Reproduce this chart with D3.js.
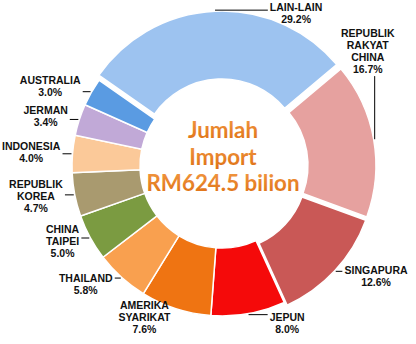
<!DOCTYPE html>
<html>
<head>
<meta charset="utf-8">
<script src="https://cdn.jsdelivr.net/npm/d3@7"></script>
<style>
  body { margin: 0; background: #fff; }
</style>
</head>
<body>
<svg width="416" height="344"></svg>
<script>
var countries = ["REPUBLIK RAKYAT CHINA", "SINGAPURA", "JEPUN", "AMERIKA SYARIKAT", "THAILAND",
                 "CHINA TAIPEI", "REPUBLIK KOREA", "INDONESIA", "JERMAN", "AUSTRALIA", "LAIN-LAIN"];
var labelLines = [["REPUBLIK", "RAKYAT", "CHINA"], ["SINGAPURA"], ["JEPUN"], ["AMERIKA", "SYARIKAT"], ["THAILAND"],
                  ["CHINA", "TAIPEI"], ["REPUBLIK", "KOREA"], ["INDONESIA"], ["JERMAN"], ["AUSTRALIA"], ["LAIN-LAIN"]];
var shares = [16.7, 12.6, 8.0, 7.6, 5.8, 5.0, 4.7, 4.0, 3.4, 3.0, 29.2];
var centerText = ["Jumlah", "Import", "RM624.5 bilion"];

var svg = d3.select("svg"),
    width = +svg.attr("width"),
    height = +svg.attr("height");

var cx = 222, cy = 166,
    outerR = 150, innerR = 82;

var color = d3.scaleOrdinal()
    .domain(countries)
    .range(["#e6a19f", "#c95856", "#f50a0a", "#ef7412", "#f9a04f",
            "#7b9b41", "#a99a6f", "#fbc999", "#c1a9d7", "#5a9be2", "#9dc3f0"]);

// slices pulled out of the ring
var explode = {"LAIN-LAIN": 5, "REPUBLIK RAKYAT CHINA": 4, "SINGAPURA": 4};

var start = 50 * Math.PI / 180;
var pie = d3.pie()
    .sort(null)
    .value(function(d) { return d.value; })
    .startAngle(start)
    .endAngle(start + 2 * Math.PI);

var data = countries.map(function(c, i) {
  return {name: c, value: shares[i], lines: labelLines[i].concat([shares[i].toFixed(1) + "%"])};
});

var arcs = pie(data);
var arc = d3.arc().innerRadius(innerR).outerRadius(outerR);

function mid(d) { return (d.startAngle + d.endAngle) / 2; }
function polar(a, r) { return [cx + r * Math.sin(a), cy - r * Math.cos(a)]; }

var g = svg.append("g").attr("transform", "translate(" + cx + "," + cy + ")");

g.selectAll("path")
  .data(arcs)
  .enter().append("path")
    .attr("d", arc)
    .attr("fill", function(d) { return color(d.data.name); })
    .attr("stroke", "#fff")
    .attr("stroke-width", 1.5)
    .attr("transform", function(d) {
      var e = explode[d.data.name] || 0, a = mid(d);
      return "translate(" + (e * Math.sin(a)) + "," + (-e * Math.cos(a)) + ")";
    });

// labels
var lineH = 12;
var labels = svg.append("g")
    .attr("font-family", "'Liberation Sans', Arial, sans-serif")
    .attr("font-weight", "bold")
    .attr("font-size", "10.5px")
    .attr("fill", "#111")
    .attr("text-anchor", "middle");

// Excel moved these out of the way: [angle in degrees, radius]
var moved = {"LAIN-LAIN": [26, 169], "REPUBLIK RAKYAT CHINA": [52, 185], "JEPUN": [157.6, 171]};

arcs.forEach(function(d) {
  var a = mid(d), e = explode[d.data.name] || 0;
  var t = labels.append("text");
  t.selectAll("tspan")
    .data(d.data.lines)
    .enter().append("tspan")
      .attr("x", 0)
      .attr("y", function(l, i) { return i * lineH; })
      .text(function(l) { return l; });
  var bb = t.node().getBBox();
  var w = bb.width, h = d.data.lines.length * lineH;
  var pos;
  if (moved[d.data.name]) {
    pos = polar(moved[d.data.name][0] * Math.PI / 180, moved[d.data.name][1]);
  } else {
    pos = polar(a, outerR + e + 10);
    pos[0] += (Math.sin(a) >= 0 ? 1 : -1) * (w / 2 + 2);
  }
  var top = pos[1] - h / 2;
  t.attr("transform", "translate(" + pos[0] + "," + (top + 9) + ")");

  // leader line to the nearest side of the label box
  var p = polar(a, outerR + e + 1);
  var x0 = pos[0] - w / 2 - 2, x1 = pos[0] + w / 2 + 2,
      y0 = top, y1 = top + h;
  var tx = Math.max(x0, Math.min(x1, p[0])),
      ty = Math.max(y0, Math.min(y1, p[1]));
  if (Math.hypot(tx - p[0], ty - p[1]) > 3) {
    svg.append("line")
      .attr("x1", p[0]).attr("y1", p[1])
      .attr("x2", tx).attr("y2", ty)
      .attr("stroke", "#000")
      .attr("stroke-width", 1);
  }
});

// center title
var grad = svg.append("defs").append("linearGradient")
    .attr("id", "orange")
    .attr("x1", 0).attr("y1", 0).attr("x2", 0).attr("y2", 1);
grad.append("stop").attr("offset", "0%").attr("stop-color", "#f39a45");
grad.append("stop").attr("offset", "100%").attr("stop-color", "#dd6f12");

var title = svg.append("g")
    .attr("font-family", "Lato, 'Open Sans', sans-serif")
    .attr("font-weight", "bold")
    .attr("font-size", "22px")
    .attr("text-anchor", "middle")
    .attr("fill", "url(#orange)");

var tl = title.selectAll("text")
  .data(centerText)
  .enter().append("text")
    .attr("x", 223)
    .attr("y", function(d, i) { return 138 + i * 26.5; })
    .text(function(d) { return d; });

// fit the long line to the width it has in the original
var len = tl.nodes()[2].getComputedTextLength();
title.attr("font-size", (22 * 153 / len) + "px");
</script>
</body>
</html>
